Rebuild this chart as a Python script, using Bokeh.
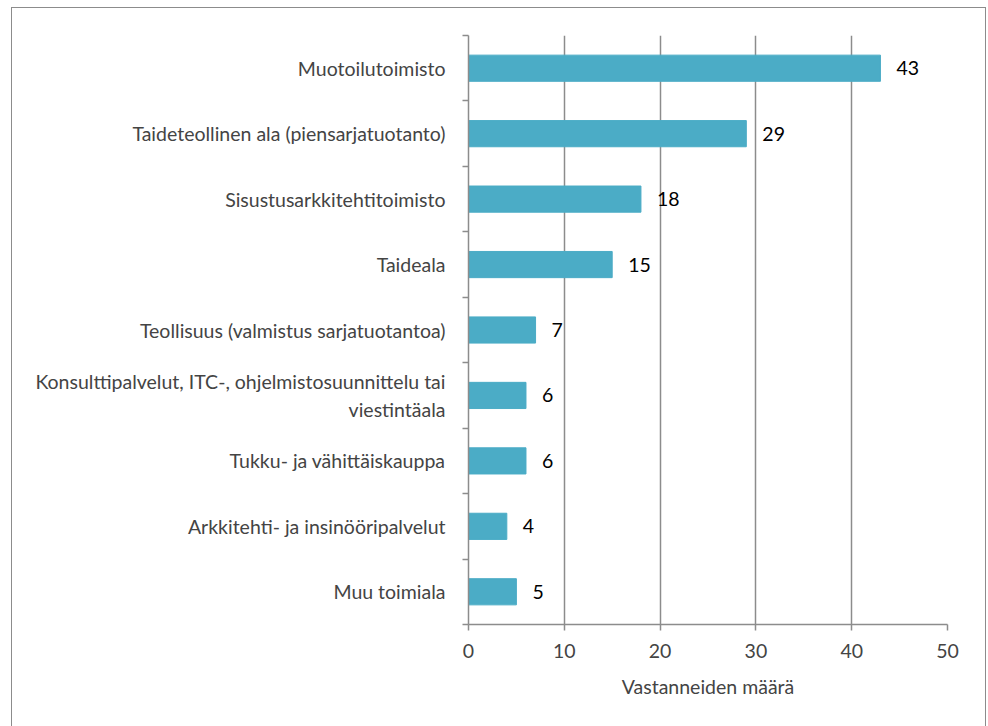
from bokeh.plotting import figure
from bokeh.models import Range1d, FixedTicker
from bokeh.core.properties import value
from bokeh.embed import file_html
from bokeh.resources import INLINE

categories = [
    "Muotoilutoimisto",
    "Taideteollinen ala (piensarjatuotanto)",
    "Sisustusarkkitehtitoimisto",
    "Taideala",
    "Teollisuus (valmistus sarjatuotantoa)",
    "Konsulttipalvelut, ITC-, ohjelmistosuunnittelu tai\nviestintäala",
    "Tukku- ja vähittäiskauppa",
    "Arkkitehti- ja insinööripalvelut",
    "Muu toimiala",
]
counts = [43, 29, 18, 15, 7, 6, 6, 4, 5]
x_ticks = [0, 10, 20, 30, 40, 50]
x_title = "Vastanneiden määrä"

FONT = "Lato"
FS = "19.5px"
GRAY = "#8c8c8c"
BAR = "#4bacc6"

n = len(categories)
ypos = [i + 0.5 for i in range(n)]

p = figure(width=975, height=720, output_backend="svg", toolbar_location=None,
           x_range=Range1d(0, 50), y_range=Range1d(n, 0),
           min_border_left=456, min_border_right=40, min_border_top=27, min_border_bottom=104)
p.styles = {"border": "1.5px solid #8c8c8c", "margin-left": "11px", "margin-top": "7px"}
p.outline_line_color = None

p.hbar(y=ypos, right=counts, left=0, height=0.4, fill_color=BAR, line_color=BAR)
p.text(x=counts, y=ypos, text=[str(c) for c in counts], x_offset=16,
       text_baseline="middle", text_align="left",
       text_font=value(FONT), text_font_size=FS, text_color="black")

# x axis
p.xaxis.ticker = FixedTicker(ticks=x_ticks)
p.xaxis.axis_label = x_title
p.xaxis.axis_label_text_font = FONT
p.xaxis.axis_label_text_font_size = FS
p.xaxis.axis_label_text_font_style = "normal"
p.xaxis.axis_label_standoff = 14
p.xaxis.major_label_text_font = FONT
p.xaxis.major_label_text_font_size = FS
p.xaxis.major_label_standoff = 13
p.xaxis.axis_line_color = GRAY
p.xaxis.axis_line_width = 1.5
p.xaxis.major_tick_line_color = GRAY
p.xaxis.major_tick_line_width = 1.5
p.xaxis.major_tick_out = 6
p.xaxis.major_tick_in = 0
p.xaxis.minor_tick_line_color = None

# y axis
p.yaxis.ticker = FixedTicker(ticks=ypos, minor_ticks=list(range(n + 1)))
p.yaxis.major_label_overrides = {y: c for y, c in zip(ypos, categories)}
p.yaxis.major_label_text_font = FONT
p.yaxis.major_label_text_font_size = FS
p.yaxis.major_label_standoff = 17
p.yaxis.major_tick_line_color = None
p.yaxis.major_tick_out = 0
p.yaxis.major_tick_in = 0
p.yaxis.minor_tick_line_color = GRAY
p.yaxis.minor_tick_line_width = 1.5
p.yaxis.minor_tick_out = 6
p.yaxis.minor_tick_in = 0
p.yaxis.axis_line_color = GRAY
p.yaxis.axis_line_width = 1.5

p.xgrid.ticker = FixedTicker(ticks=x_ticks)
p.xgrid.grid_line_color = GRAY
p.xgrid.grid_line_width = 1.5
p.ygrid.grid_line_color = None

open("out.html", "w").write(file_html(p, INLINE))
